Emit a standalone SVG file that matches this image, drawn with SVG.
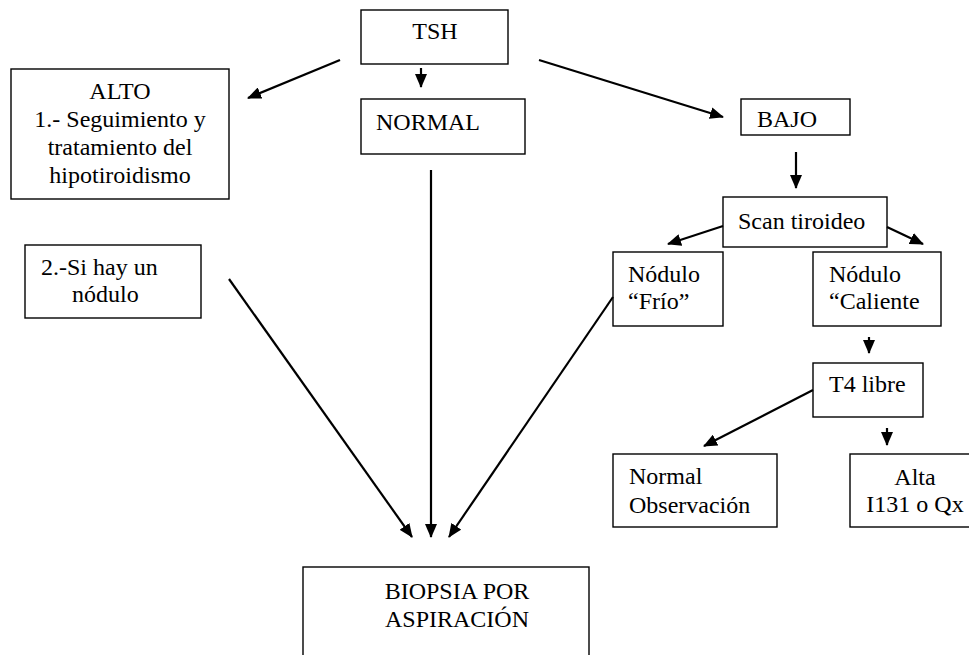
<svg xmlns="http://www.w3.org/2000/svg" width="969" height="655" viewBox="0 0 969 655">
<style>
rect{fill:#fff;stroke:#000;stroke-width:1.4}
.m{text-anchor:middle}
.c line{stroke:#000;stroke-width:2.2;marker-end:url(#a)}
</style>
<defs>
<marker id="a" markerUnits="userSpaceOnUse" markerWidth="14" markerHeight="12" refX="13" refY="6" orient="auto">
<path d="M0,0 L14,6 L0,12 z" fill="#000"/>
</marker>
</defs>
<g font-family="Liberation Serif, Times New Roman, DejaVu Serif, serif" font-size="24" fill="#000">
<g id="tsh"><rect x="361" y="10" width="147" height="54"/><text x="435" y="39" class="m">TSH</text></g>
<g id="alto"><rect x="11" y="69" width="218" height="130"/>
<text class="m" x="120" y="99">ALTO</text>
<text class="m" x="120" y="127">1.- Seguimiento y</text>
<text class="m" x="120" y="155">tratamiento del</text>
<text class="m" x="120" y="183">hipotiroidismo</text></g>
<g id="normal"><rect x="361" y="99" width="164" height="55"/><text x="376" y="130">NORMAL</text></g>
<g id="bajo"><rect x="741" y="99" width="109" height="36"/><text x="757" y="127">BAJO</text></g>
<g id="scan"><rect x="723" y="197" width="164" height="50"/><text x="738" y="229">Scan tiroideo</text></g>
<g id="frio"><rect x="613" y="252" width="110" height="74"/><text x="628" y="282">Nódulo</text><text x="628" y="309">“Frío”</text></g>
<g id="caliente"><rect x="813" y="252" width="128" height="74"/><text x="829" y="282">Nódulo</text><text x="829" y="309">“Caliente</text></g>
<g id="t4"><rect x="813" y="363" width="110" height="54"/><text x="829" y="392">T4 libre</text></g>
<g id="normal2"><rect x="613" y="454" width="164" height="73"/><text x="629" y="484">Normal</text><text x="629" y="513">Observación</text></g>
<g id="alta"><rect x="850" y="454" width="130" height="73"/><text class="m" x="915" y="485">Alta</text><text class="m" x="915" y="512">I131 o Qx</text></g>
<g id="sihay"><rect x="25" y="245" width="176" height="73"/><text x="41" y="275">2.-Si hay un</text><text x="72" y="302">nódulo</text></g>
<g id="biopsia"><rect x="303" y="567" width="286" height="100"/><text class="m" x="457" y="599">BIOPSIA POR</text><text class="m" x="457" y="627">ASPIRACIÓN</text></g>
</g>
<g id="connectors" class="c">
<line x1="340" y1="60" x2="248" y2="98"/>
<line x1="421" y1="68" x2="421" y2="87"/>
<line x1="539" y1="60" x2="723" y2="117"/>
<line x1="796" y1="152" x2="796" y2="188"/>
<line x1="723" y1="226" x2="668" y2="244"/>
<line x1="887" y1="227" x2="923" y2="244"/>
<line x1="869" y1="337" x2="869" y2="353"/>
<line x1="813" y1="390" x2="704" y2="446"/>
<line x1="887" y1="428" x2="887" y2="445"/>
<line x1="229" y1="279" x2="412" y2="537"/>
<line x1="431" y1="170" x2="431" y2="537"/>
<line x1="613" y1="297" x2="449" y2="537"/>
</g>
</svg>
